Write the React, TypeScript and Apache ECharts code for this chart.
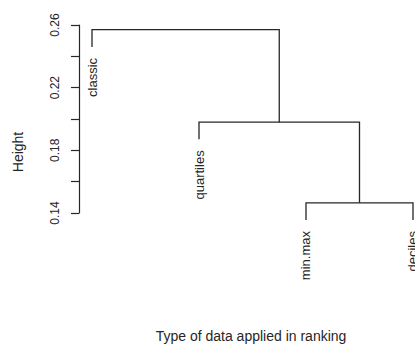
import React, { useEffect, useRef } from "react";
import * as echarts from "echarts";

const leafLabels = ["classic", "quartiles", "min.max", "deciles"];
const leafPositions = [1, 2, 3, 4];
// R-style merge table: negative = leaf index (1-based), positive = earlier merge
const mergeLeft = [-3, -2, -1];
const mergeRight = [-4, 1, 2];
const mergeHeights = [0.1465, 0.198, 0.257];
const hang = 0.011;
const yTicks = [0.14, 0.16, 0.18, 0.2, 0.22, 0.24, 0.26];
const yLabelTicks = ["0.14", "0.18", "0.22", "0.26"];

const INK = "#262626";
const FONT = "Liberation Sans, Arial, Helvetica, sans-serif";

function buildTree() {
  const nodeX: number[] = [];
  const nodeH: number[] = [];
  const segs: number[][] = [];
  const leafEnds: (string | number)[][] = [];
  const leafEnd = (i: number, h: number) => {
    leafEnds.push([leafPositions[i], h - hang, leafLabels[i]]);
  };
  mergeHeights.forEach((h, k) => {
    const side = (m: number) => {
      if (m < 0) {
        const i = -m - 1;
        leafEnd(i, h);
        return [leafPositions[i], h - hang];
      }
      return [nodeX[m - 1], nodeH[m - 1]];
    };
    const [xl, yl] = side(mergeLeft[k]);
    const [xr, yr] = side(mergeRight[k]);
    nodeX.push((xl + xr) / 2);
    nodeH.push(h);
    segs.push([xl, yl, xr, yr, h]);
  });
  return { segs, leafEnds };
}

export default function App() {
  const ref = useRef<HTMLDivElement>(null);
  useEffect(() => {
    if (!ref.current) return;
    const chart = echarts.init(ref.current, null, { renderer: "svg" });
    const { segs, leafEnds } = buildTree();
    chart.setOption({
      animation: false,
      backgroundColor: "#ffffff",
      grid: { left: 79, top: 25, right: 0, height: 188, outerBoundsMode: "none", containLabel: false },
      xAxis: {
        type: "value",
        min: 0.8785,
        max: 4.0187,
        axisLine: { show: false },
        axisTick: { show: false },
        axisLabel: { show: false },
        splitLine: { show: false },
        name: "Type of data applied in ranking",
        nameLocation: "middle",
        nameGap: 116,
        nameTextStyle: { color: INK, fontSize: 14, fontFamily: FONT, padding: [0, 0, 0, 8] },
      },
      yAxis: {
        type: "value",
        min: yTicks[0],
        max: yTicks[yTicks.length - 1],
        interval: 0.02,
        axisLine: { show: true, lineStyle: { color: INK, width: 1.2 } },
        axisTick: { show: true, length: 8, lineStyle: { color: INK, width: 1.2 } },
        splitLine: { show: false },
        axisLabel: {
          rotate: 90,
          margin: 18,
          color: INK,
          fontSize: 12,
          fontFamily: FONT,
          formatter: (v: number) => {
            const s = v.toFixed(2);
            return yLabelTicks.includes(s) ? s : "";
          },
        },
      },
      graphic: [
        {
          type: "text",
          x: 18,
          y: 152,
          rotation: Math.PI / 2,
          style: {
            text: "Height",
            fill: INK,
            fontSize: 14,
            fontFamily: FONT,
            align: "center",
            verticalAlign: "middle",
          },
        },
      ],
      series: [
        {
          type: "custom",
          data: segs,
          clip: false,
          renderItem: (params: any, api: any) => {
            const a = api.coord([api.value(0), api.value(1)]);
            const b = api.coord([api.value(0), api.value(4)]);
            const c = api.coord([api.value(2), api.value(4)]);
            const d = api.coord([api.value(2), api.value(3)]);
            return {
              type: "polyline",
              shape: { points: [a, b, c, d] },
              style: { stroke: INK, lineWidth: 1.3, fill: "none" },
            };
          },
        },
        {
          type: "custom",
          data: leafEnds,
          clip: false,
          renderItem: (params: any, api: any) => {
            const p = api.coord([api.value(0), api.value(1)]);
            const name = leafEnds[params.dataIndex][2] as string;
            return {
              type: "text",
              x: p[0],
              y: p[1] + 11,
              rotation: Math.PI / 2,
              style: {
                text: name,
                fill: INK,
                fontSize: 13,
                fontFamily: FONT,
                align: "right",
                verticalAlign: "middle",
              },
            };
          },
        },
      ],
    });
    return () => chart.dispose();
  }, []);
  return (
    <div
      ref={ref}
      style={{ position: "fixed", left: 0, top: 0, width: 415, height: 345, background: "#fff" }}
    />
  );
}
